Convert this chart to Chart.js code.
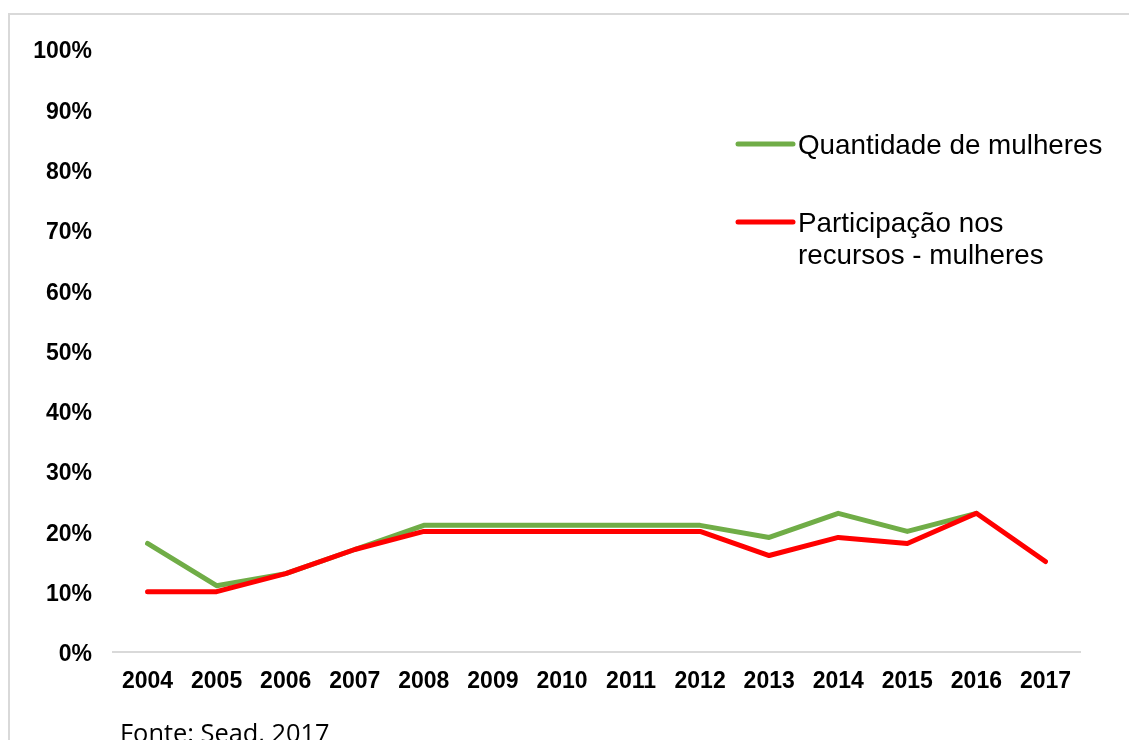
<!DOCTYPE html>
<html>
<head>
<meta charset="utf-8">
<script src="https://cdn.jsdelivr.net/npm/chart.js@4/dist/chart.umd.min.js"></script>
<style>
  html, body { margin: 0; padding: 0; background: #fff; overflow: hidden; }
  #frame {
    position: absolute; left: 8px; top: 13px;
    width: 1200px; height: 800px;
    border: 2px solid #d9d9d9; box-sizing: border-box;
  }
  #chart { position: absolute; left: 0; top: 0; }
  #source {
    position: absolute; left: 120px; top: 720px;
    font-family: "Open Sans", sans-serif; font-size: 25.4px; line-height: 1;
    color: #000; white-space: nowrap;
  }
</style>
</head>
<body>
<div id="frame"></div>
<canvas id="chart" width="1129" height="740"></canvas>
<div id="source">Fonte: Sead, 2017</div>
<script>
const years = ['2004', '2005', '2006', '2007', '2008', '2009', '2010', '2011', '2012', '2013', '2014', '2015', '2016', '2017'];
const quantidadeMulheres = [18, 11, 13, 17, 21, 21, 21, 21, 21, 19, 23, 20, 23, null];
const participacaoRecursos = [10, 10, 13, 17, 20, 20, 20, 20, 20, 16, 19, 18, 23, 15];
const yTicks = [0, 10, 20, 30, 40, 50, 60, 70, 80, 90, 100];

const labelQuantidade = ['Quantidade de mulheres'];
const labelParticipacao = ['Participação nos', 'recursos - mulheres'];

const GREEN = '#70ad47';
const RED = '#ff0000';
const FONT = '"Liberation Sans", Arial, sans-serif';

Chart.defaults.color = '#000000';
Chart.defaults.font.family = FONT;

// legend drawn inside the plot, with wrapped labels
const sideLegend = {
  id: 'sideLegend',
  afterDatasetsDraw(chart, args, opts) {
    const ctx = chart.ctx;
    ctx.save();
    ctx.font = `${opts.fontSize}px ${FONT}`;
    ctx.textBaseline = 'middle';
    ctx.fillStyle = '#000';
    let y = opts.y;
    chart.data.datasets.forEach(ds => {
      ctx.strokeStyle = ds.borderColor;
      ctx.lineWidth = ds.borderWidth;
      ctx.lineCap = 'round';
      ctx.beginPath();
      ctx.moveTo(opts.x, y);
      ctx.lineTo(opts.x + opts.lineLen, y);
      ctx.stroke();
      const lines = Array.isArray(ds.label) ? ds.label : [ds.label];
      lines.forEach((txt, i) => {
        ctx.fillText(txt, opts.x + opts.lineLen + opts.textGap, y + 2 + i * opts.lineHeight);
      });
      y += opts.gap;
    });
    ctx.restore();
  }
};

new Chart(document.getElementById('chart'), {
  type: 'line',
  data: {
    labels: years,
    datasets: [
      {
        label: labelQuantidade,
        data: quantidadeMulheres,
        borderColor: GREEN,
        backgroundColor: GREEN,
        borderWidth: 5,
        pointRadius: 0,
        tension: 0,
        borderCapStyle: 'round',
        borderJoinStyle: 'round',
        order: 1
      },
      {
        label: labelParticipacao,
        data: participacaoRecursos,
        borderColor: RED,
        backgroundColor: RED,
        borderWidth: 5,
        pointRadius: 0,
        tension: 0,
        borderCapStyle: 'round',
        borderJoinStyle: 'round',
        order: 0
      }
    ]
  },
  options: {
    responsive: false,
    animation: false,
    layout: { padding: { left: 0, top: 49, right: 49, bottom: 0 } },
    plugins: {
      legend: { display: false },
      tooltip: { enabled: false },
      sideLegend: { x: 738, y: 144, gap: 78, lineLen: 55, textGap: 5, lineHeight: 32, fontSize: 27.8 }
    },
    scales: {
      x: {
        offset: true,
        grid: { display: false, drawTicks: false, offset: true },
        border: { display: true, color: '#d9d9d9', width: 2 },
        ticks: { font: { size: 23, weight: 'bold' }, padding: 16, maxRotation: 0, autoSkip: false },
        afterFit(scale) { scale.height = 88; }
      },
      y: {
        min: 0,
        max: 100,
        grid: { display: false, drawTicks: false },
        border: { display: false },
        afterBuildTicks(scale) { scale.ticks = yTicks.map(v => ({ value: v })); },
        ticks: {
          font: { size: 23, weight: 'bold' },
          padding: 21,
          labelOffset: 3,
          callback: v => v + '%'
        },
        afterFit(scale) { scale.width = 113; }
      }
    }
  },
  plugins: [sideLegend]
});
</script>
</body>
</html>
